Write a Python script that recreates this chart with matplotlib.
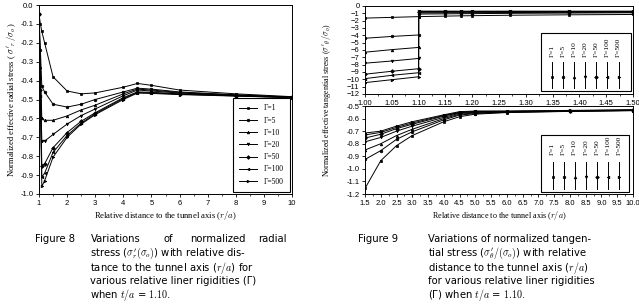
import matplotlib
matplotlib.use("Agg")
import matplotlib.pyplot as plt
from matplotlib.lines import Line2D
from matplotlib.patches import Rectangle
from matplotlib.ticker import MultipleLocator

plt.rcParams['mathtext.fontset'] = 'cm'
plt.rcParams['font.family'] = ['Liberation Sans', 'DejaVu Sans']

# ---- data ----
gammas = ['Γ=1', 'Γ=5', 'Γ=10', 'Γ=20', 'Γ=50', 'Γ=100', 'Γ=500']
markers = ['s', 'o', '^', 'v', 'D', '<', '>']

# Figure 8: radial stress
r_x = [1.0, 1.05, 1.1, 1.2, 1.5, 2.0, 2.5, 3.0, 4.0, 4.5, 5.0, 6.0, 8.0, 10.0]
r_g1 = [-0.05, -0.10, -0.14, -0.20, -0.38, -0.455, -0.47, -0.465, -0.435, -0.415, -0.425, -0.45, -0.47, -0.485]
r_g5 = [-0.05, -0.24, -0.43, -0.46, -0.525, -0.54, -0.525, -0.50, -0.46, -0.44, -0.445, -0.46, -0.475, -0.487]
r_g10 = [-0.05, -0.33, -0.60, -0.61, -0.61, -0.587, -0.555, -0.53, -0.47, -0.445, -0.45, -0.463, -0.477, -0.488]
r_g20 = [-0.05, -0.39, -0.72, -0.72, -0.685, -0.63, -0.585, -0.55, -0.48, -0.45, -0.455, -0.466, -0.478, -0.488]
r_g50 = [-0.05, -0.45, -0.85, -0.84, -0.755, -0.675, -0.615, -0.57, -0.49, -0.46, -0.462, -0.47, -0.48, -0.489]
r_g100 = [-0.05, -0.48, -0.91, -0.89, -0.78, -0.69, -0.625, -0.575, -0.495, -0.463, -0.465, -0.472, -0.481, -0.49]
r_g500 = [-0.05, -0.50, -0.96, -0.93, -0.805, -0.70, -0.63, -0.58, -0.50, -0.466, -0.468, -0.474, -0.482, -0.49]
radial = [r_g1, r_g5, r_g10, r_g20, r_g50, r_g100, r_g500]

# Figure 9 top: liner (1.0-1.1) then soil near the tunnel
t_x = [1.0, 1.05, 1.1, 1.1, 1.15, 1.18, 1.2, 1.27, 1.38, 1.5]
t_g1 = [-1.65, -1.55, -1.45, -1.45, -1.38, -1.34, -1.32, -1.26, -1.20, -1.155]
t_g5 = [-4.4, -4.15, -3.95, -1.10, -1.07, -1.05, -1.04, -1.00, -0.96, -0.925]
t_g10 = [-6.3, -5.95, -5.65, -0.95, -0.93, -0.92, -0.91, -0.89, -0.87, -0.85]
t_g20 = [-7.8, -7.5, -7.15, -0.84, -0.83, -0.82, -0.815, -0.805, -0.795, -0.785]
t_g50 = [-9.3, -8.9, -8.55, -0.79, -0.785, -0.78, -0.775, -0.77, -0.76, -0.755]
t_g100 = [-9.9, -9.45, -9.1, -0.74, -0.74, -0.74, -0.735, -0.735, -0.73, -0.73]
t_g500 = [-10.45, -10.05, -9.65, -0.70, -0.70, -0.71, -0.71, -0.71, -0.715, -0.715]
tang_near = [t_g1, t_g5, t_g10, t_g20, t_g50, t_g100, t_g500]

# Figure 9 bottom: soil, far field
b_x = [1.5, 2.0, 2.5, 3.0, 4.0, 4.5, 5.0, 6.0, 8.0, 10.0]
b_g1 = [-1.155, -0.935, -0.815, -0.735, -0.625, -0.585, -0.565, -0.552, -0.543, -0.537]
b_g5 = [-0.925, -0.855, -0.765, -0.705, -0.61, -0.572, -0.56, -0.55, -0.542, -0.536]
b_g10 = [-0.85, -0.80, -0.735, -0.685, -0.60, -0.565, -0.555, -0.548, -0.541, -0.535]
b_g20 = [-0.785, -0.75, -0.70, -0.66, -0.59, -0.558, -0.55, -0.546, -0.54, -0.534]
b_g50 = [-0.755, -0.725, -0.68, -0.645, -0.58, -0.553, -0.546, -0.544, -0.538, -0.533]
b_g100 = [-0.73, -0.71, -0.67, -0.635, -0.575, -0.55, -0.543, -0.542, -0.537, -0.532]
b_g500 = [-0.715, -0.70, -0.66, -0.625, -0.57, -0.545, -0.54, -0.54, -0.535, -0.53]
tang_far = [b_g1, b_g5, b_g10, b_g20, b_g50, b_g100, b_g500]

W, H = 639, 308
fig = plt.figure(figsize=(W / 100, H / 100), dpi=100)

def box(x0, y0, x1, y1):
    return [x0 / W, 1 - y1 / H, (x1 - x0) / W, (y1 - y0) / H]

serif = ['Liberation Serif', 'DejaVu Serif']
tick_fs = 5.5
mk = dict(ms=1.9, mew=0.5)

def style(ax):
    ax.tick_params(direction='out', length=2.5, width=0.6, labelsize=tick_fs, pad=1.5)
    ax.tick_params(which='minor', direction='out', length=1.5, width=0.5)
    for s in ax.spines.values():
        s.set_linewidth(0.7)

# ---- Figure 8 ----
ax1 = fig.add_axes(box(39, 5, 292, 194))
for ys, m, lab in zip(radial, markers, gammas):
    ax1.plot(r_x, ys, color='black', lw=0.7, marker=m, label=lab, **mk)
ax1.set_xlim(1, 10)
ax1.set_ylim(-1.0, 0.0)
ax1.set_xticks(range(1, 11))
ax1.xaxis.set_minor_locator(MultipleLocator(0.5))
ax1.set_yticks([-1.0 + 0.1 * i for i in range(11)])
ax1.set_yticklabels(['%.1f' % (-1.0 + 0.1 * i) for i in range(11)])
style(ax1)
ax1.set_xlabel(r'Relative distance to the tunnel axis ($r/a$)', fontsize=6.2, family=serif, labelpad=2)
ax1.set_ylabel(r"Normalized effective radial stress ( $\sigma'_r\,/\sigma_o$ )", fontsize=6.2, family=serif, labelpad=2)
leg = ax1.legend(loc='lower right', bbox_to_anchor=(1.0, 0.0), fancybox=False, edgecolor='black',
                 prop={'family': serif, 'size': 5.5}, handlelength=2.4, labelspacing=0.55,
                 borderpad=0.8, borderaxespad=0.3, framealpha=1)
leg.get_frame().set_linewidth(0.8)

# ---- Figure 9 ----
ax2 = fig.add_axes(box(365, 6, 633, 94))
for ys, m in zip(tang_near, markers):
    ax2.plot(t_x, ys, color='black', lw=0.7, marker=m, **mk)
ax2.set_xlim(1.0, 1.5)
ax2.set_ylim(-12, 0)
ax2.set_xticks([1.0 + 0.05 * i for i in range(11)])
ax2.set_xticklabels(['%.2f' % (1.0 + 0.05 * i) for i in range(11)])
ax2.xaxis.set_minor_locator(MultipleLocator(0.025))
ax2.set_yticks(range(-12, 1))
style(ax2)

ax3 = fig.add_axes(box(365, 106, 633, 194))
for ys, m in zip(tang_far, markers):
    ax3.plot(b_x, ys, color='black', lw=0.7, marker=m, **mk)
ax3.set_xlim(1.5, 10.0)
ax3.set_ylim(-1.2, -0.5)
ax3.set_xticks([1.5 + 0.5 * i for i in range(18)])
ax3.set_xticklabels(['%.1f' % (1.5 + 0.5 * i) for i in range(18)])
ax3.xaxis.set_minor_locator(MultipleLocator(0.25))
ax3.set_yticks([-1.2 + 0.1 * i for i in range(8)])
ax3.set_yticklabels(['%.1f' % (-1.2 + 0.1 * i) for i in range(8)])
style(ax3)
ax3.set_xlabel(r'Relative distance to the tunnel axis ($r/a$)', fontsize=5.9, family=serif, labelpad=2)
fig.text(327 / W, 1 - 100 / H, r"Normalized effective tangential stress ($\sigma'_\theta\,/\sigma_o$)",
         rotation=90, ha='center', va='center', fontsize=5.8, family=serif)

# rotated legends for the two panels
def vertical_legend(ax, bx0, by0, bx1, by1, col0, dcol, text_y, h0, h1, mk_y):
    ax.add_patch(Rectangle((bx0, by0), bx1 - bx0, by1 - by0, transform=ax.transAxes,
                           fill=True, facecolor='white', edgecolor='black', lw=0.8, zorder=5))
    for i, (lab, m) in enumerate(zip(gammas, markers)):
        cx = col0 + dcol * i
        ax.add_line(Line2D([cx, cx], [h0, h1], transform=ax.transAxes, color='black', lw=0.7, zorder=6))
        ax.add_line(Line2D([cx], [mk_y], transform=ax.transAxes, color='black', marker=m, zorder=6, **mk))
        ax.text(cx, text_y, lab, transform=ax.transAxes, rotation=90, ha='center', va='bottom',
                fontsize=5.3, family=serif, zorder=6)

vertical_legend(ax2, 0.657, 0.034, 0.993, 0.693, 0.697, 0.0415, 0.42, 0.068, 0.364, 0.193)
vertical_legend(ax3, 0.657, 0.023, 0.985, 0.67, 0.70, 0.0413, 0.443, 0.057, 0.364, 0.193)

# ---- captions ----
cap_fs = 7.2
cap_font = ['DejaVu Sans']
left_first = [(91, 'Variations'), (163, 'of'), (190, 'normalized'), (258, 'radial')]
left_lines = [
    r"stress ($\sigma_r^{\prime}(\sigma_o)$) with relative dis-",
    r"tance to the tunnel axis ($r/a$) for",
    "various relative liner rigidities (Γ)",
    r"when $t/a$ = $1.10$.",
]
right_lines = [
    r"Variations of normalized tangen-",
    r"tial stress ($\sigma_\theta^{\prime}/(\sigma_o)$) with relative",
    r"distance to the tunnel axis ($r/a$)",
    r"for various relative liner rigidities",
    r"(Γ) when $t/a$ = $1.10$.",
]
ys = [239.5, 253, 267.5, 281.5, 295]
fig.text(35 / W, 1 - ys[0] / H, 'Figure 8', fontsize=cap_fs, family=cap_font, va='center', ha='left')
fig.text(358 / W, 1 - ys[0] / H, 'Figure 9', fontsize=cap_fs, family=cap_font, va='center', ha='left')
for x, word in left_first:
    fig.text(x / W, 1 - ys[0] / H, word, fontsize=cap_fs, family=cap_font, va='center', ha='left')
for y, a in zip(ys[1:], left_lines):
    fig.text(90 / W, 1 - y / H, a, fontsize=cap_fs, family=cap_font, va='center', ha='left')
for y, b in zip(ys, right_lines):
    fig.text(428 / W, 1 - y / H, b, fontsize=cap_fs, family=cap_font, va='center', ha='left')

fig.savefig('out.png', dpi=100)
